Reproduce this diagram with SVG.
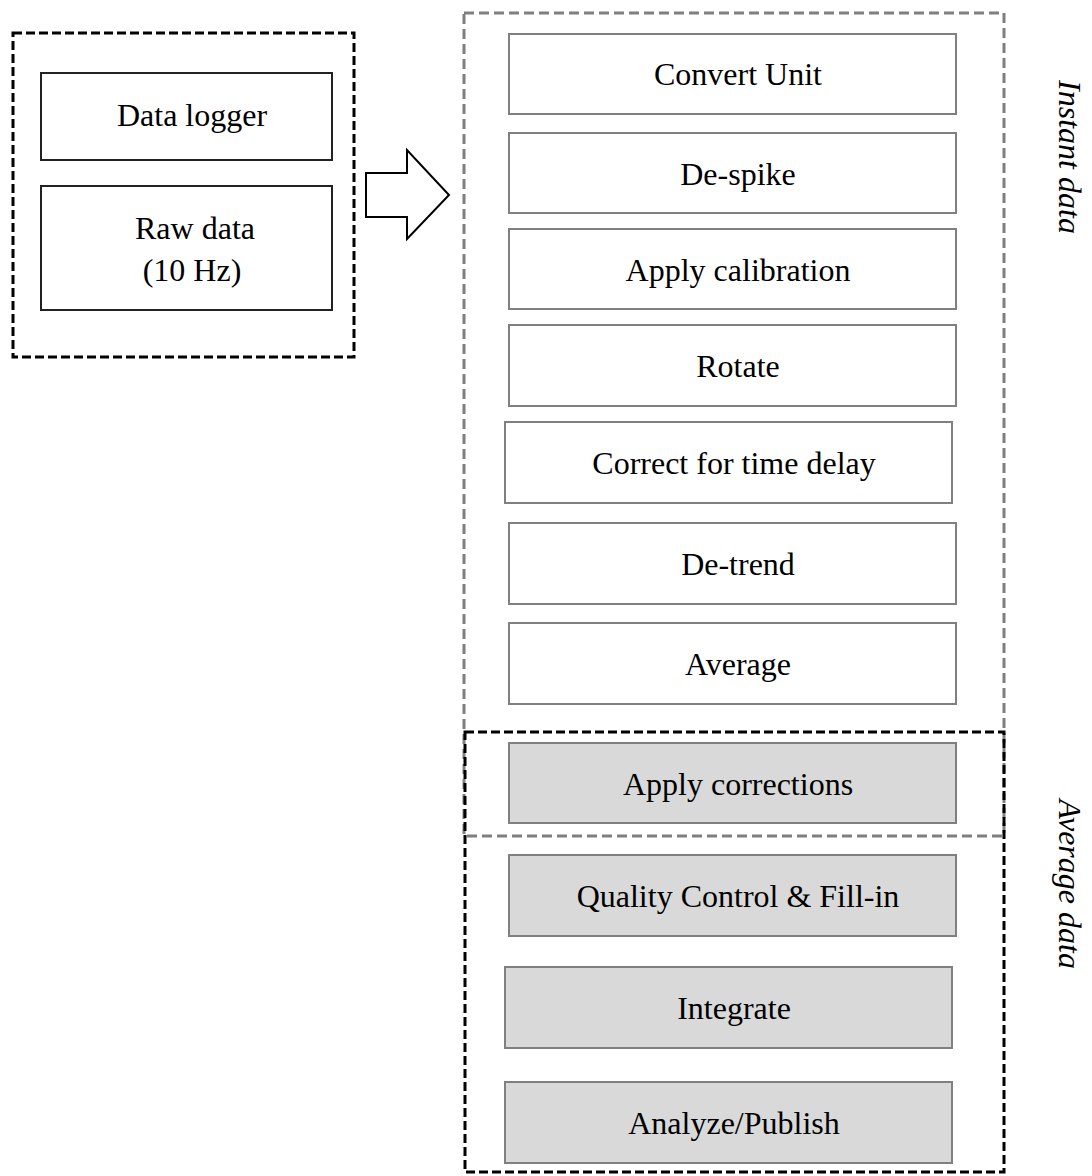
<svg xmlns="http://www.w3.org/2000/svg" width="1092" height="1176" viewBox="0 0 1092 1176">
<style>
.lbl{font-family:"Liberation Serif","Times New Roman",serif;font-size:32px;fill:#000;text-anchor:middle}
.vl{font-family:"Liberation Serif","Times New Roman",serif;font-size:32px;font-style:italic;fill:#000;text-anchor:middle}
.src{fill:#fff;stroke:#222;stroke-width:2}
.step{fill:#fff;stroke:#808080;stroke-width:2}
.avg{fill:#d9d9d9;stroke:#808080;stroke-width:2}
.gdash{fill:none;stroke:#7f7f7f;stroke-width:3;stroke-dasharray:10 5}
.bdash{fill:none;stroke:#000;stroke-width:3;stroke-dasharray:9 4}
</style>
<rect width="1092" height="1176" fill="#fff"/>
<g id="group-source">
<rect class="bdash" x="13" y="33" width="341" height="324"/>
</g>
<g id="node-data-logger">
<rect class="src" x="41" y="73" width="291" height="87"/>
<text class="lbl" x="192" y="126">Data logger</text>
</g>
<g id="node-raw-data">
<rect class="src" x="41" y="186" width="291" height="124"/>
<text class="lbl" x="195" y="239">Raw data</text>
<text class="lbl" x="192" y="281">(10 Hz)</text>
</g>
<g id="connectors">
<polygon points="366,173 407,173 407,150 449,195 407,239 407,217 366,217" fill="#fff" stroke="#000" stroke-width="2" stroke-linejoin="miter"/>
</g>
<g id="node-convert-unit">
<rect class="step" x="509" y="34" width="447" height="80"/>
<text class="lbl" x="738" y="85">Convert Unit</text>
</g>
<g id="node-de-spike">
<rect class="step" x="509" y="133" width="447" height="80"/>
<text class="lbl" x="738" y="185">De-spike</text>
</g>
<g id="node-apply-calibration">
<rect class="step" x="509" y="229" width="447" height="80"/>
<text class="lbl" x="738" y="281">Apply calibration</text>
</g>
<g id="node-rotate">
<rect class="step" x="509" y="325" width="447" height="81"/>
<text class="lbl" x="738" y="377">Rotate</text>
</g>
<g id="node-correct-time-delay">
<rect class="step" x="505" y="422" width="447" height="81"/>
<text class="lbl" x="734" y="474">Correct for time delay</text>
</g>
<g id="node-de-trend">
<rect class="step" x="509" y="523" width="447" height="81"/>
<text class="lbl" x="738" y="575">De-trend</text>
</g>
<g id="node-average">
<rect class="step" x="509" y="623" width="447" height="81"/>
<text class="lbl" x="738" y="675">Average</text>
</g>
<g id="node-apply-corrections">
<rect class="avg" x="509" y="743" width="447" height="80"/>
<text class="lbl" x="738" y="795">Apply corrections</text>
</g>
<g id="node-quality-control">
<rect class="avg" x="509" y="855" width="447" height="81"/>
<text class="lbl" x="738" y="907">Quality Control &amp; Fill-in</text>
</g>
<g id="node-integrate">
<rect class="avg" x="505" y="967" width="447" height="81"/>
<text class="lbl" x="734" y="1019">Integrate</text>
</g>
<g id="node-analyze-publish">
<rect class="avg" x="505" y="1082" width="447" height="81"/>
<text class="lbl" x="734" y="1134">Analyze/Publish</text>
</g>
<g id="group-instant">
<rect class="gdash" x="464" y="13" width="540" height="823"/>
<text class="vl" transform="translate(1059,157) rotate(90)">Instant data</text>
</g>
<g id="group-average">
<rect class="bdash" x="465" y="732" width="539" height="440"/>
<text class="vl" transform="translate(1059,884) rotate(90)">Average data</text>
</g>
</svg>
